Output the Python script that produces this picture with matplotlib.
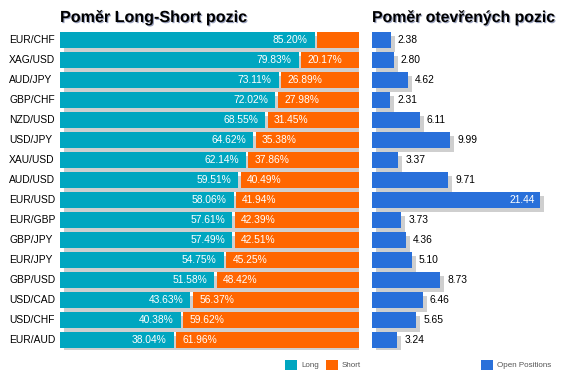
import matplotlib
matplotlib.use('Agg')
import matplotlib.pyplot as plt
from matplotlib.patches import Rectangle
from matplotlib.transforms import offset_copy, blended_transform_factory
import matplotlib.patheffects as pe

# data
pairs = ['EUR/CHF', 'XAG/USD', 'AUD/JPY', 'GBP/CHF', 'NZD/USD', 'USD/JPY', 'XAU/USD', 'AUD/USD',
         'EUR/USD', 'EUR/GBP', 'GBP/JPY', 'EUR/JPY', 'GBP/USD', 'USD/CAD', 'USD/CHF', 'EUR/AUD']
long_pct = [85.20, 79.83, 73.11, 72.02, 68.55, 64.62, 62.14, 59.51,
            58.06, 57.61, 57.49, 54.75, 51.58, 43.63, 40.38, 38.04]
short_pct = [14.80, 20.17, 26.89, 27.98, 31.45, 35.38, 37.86, 40.49,
             41.94, 42.39, 42.51, 45.25, 48.42, 56.37, 59.62, 61.96]
open_pos = [2.38, 2.80, 4.62, 2.31, 6.11, 9.99, 3.37, 9.71,
            21.44, 3.73, 4.36, 5.10, 8.73, 6.46, 5.65, 3.24]

TEAL = '#00A6C0'
ORANGE = '#FF6600'
BLUE = '#2970DA'
SHADOW = '#CFCFCF'

plt.rcParams['font.family'] = ['Liberation Sans', 'DejaVu Sans']

W, H = 568, 381
fig = plt.figure(figsize=(W / 100, H / 100), dpi=100)


def px_axes(x0, y0, x1, y1):
    return fig.add_axes([x0 / W, 1 - y1 / H, (x1 - x0) / W, (y1 - y0) / H])


ax1 = px_axes(60, 30, 359, 350)
ax2 = px_axes(372, 30, 568, 350)

n = len(pairs)
rows = list(range(n))
bh = 0.78
gap = 0.9
lbl_size = 7.4

# --- long / short ratio ---
sh1 = offset_copy(ax1.transData, fig=fig, x=4, y=-4, units='dots')
ax1.barh(rows, [l + s for l, s in zip(long_pct, short_pct)], height=bh, color=SHADOW, transform=sh1)
ax1.barh(rows, long_pct, height=bh, color=TEAL)
ax1.barh(rows, [s - gap for s in short_pct], left=[l + gap for l in long_pct], height=bh, color=ORANGE)

in_left = offset_copy(ax1.transData, fig=fig, x=-7, units='dots')
in_right = offset_copy(ax1.transData, fig=fig, x=6, units='dots')
for i in rows:
    ax1.text(long_pct[i], i, f'{long_pct[i]:.2f}%', transform=in_left, ha='right', va='center',
             color='white', fontsize=lbl_size)
    if short_pct[i] > 16:
        ax1.text(long_pct[i] + gap, i, f'{short_pct[i]:.2f}%', transform=in_right, ha='left',
                 va='center', color='white', fontsize=lbl_size)

name_tr = blended_transform_factory(fig.transFigure, ax1.transData)
for i, p in enumerate(pairs):
    ax1.text(9 / W, i, p, transform=name_tr, ha='left', va='center', fontsize=lbl_size, color='black')

ax1.set_xlim(0, 100)
ax1.set_ylim(n - 0.5, -0.5)
ax1.axis('off')

# --- open positions ---
sh2 = offset_copy(ax2.transData, fig=fig, x=4, y=-4, units='dots')
ax2.barh(rows, open_pos, height=bh, color=SHADOW, transform=sh2)
ax2.barh(rows, open_pos, height=bh, color=BLUE)
out_tr = offset_copy(ax2.transData, fig=fig, x=7, units='dots')
in_tr = offset_copy(ax2.transData, fig=fig, x=-5, units='dots')
vmax = max(open_pos)
for i, v in enumerate(open_pos):
    if v == vmax:
        ax2.text(v, i, f'{v:.2f}', transform=in_tr, ha='right', va='center', color='white', fontsize=lbl_size)
    else:
        ax2.text(v, i, f'{v:.2f}', transform=out_tr, ha='left', va='center', color='black', fontsize=lbl_size)
ax2.set_xlim(0, 25)
ax2.set_ylim(n - 0.5, -0.5)
ax2.axis('off')

# titles
title_fx = [pe.withSimplePatchShadow(offset=(0.8, -0.8), shadow_rgbFace='#1a2a6a', alpha=0.45)]
fig.text(60 / W, 1 - 22 / H, 'Poměr Long-Short pozic', fontsize=11.6, fontweight='bold',
         va='baseline', ha='left', path_effects=title_fx)
fig.text(372 / W, 1 - 22 / H, 'Poměr otevřených pozic', fontsize=11.4, fontweight='bold',
         va='baseline', ha='left', path_effects=title_fx)

# legends
for x0, col, txt in [(285, TEAL, 'Long'), (326, ORANGE, 'Short'), (481, BLUE, 'Open Positions')]:
    fig.add_artist(Rectangle((x0 / W, 1 - 370 / H), 12 / W, 10 / H, transform=fig.transFigure,
                             facecolor=col, edgecolor='none'))
    fig.text((x0 + 16) / W, 1 - 365.5 / H, txt, fontsize=5.8, color='#555555', va='center', ha='left')

fig.savefig('out.png', dpi=100)
